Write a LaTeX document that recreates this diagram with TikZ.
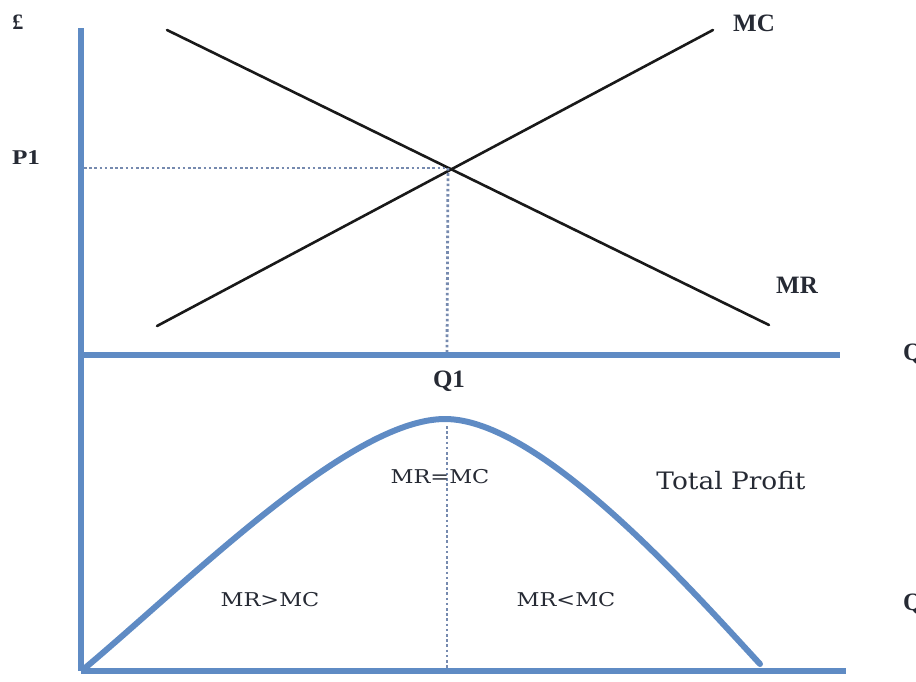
\documentclass[tikz,border=0pt]{standalone}
\usepackage{fontspec}
\usepackage{graphicx}
\setmainfont{Liberation Serif}
\newfontfamily\labelfont{DejaVu Serif}
\newcommand{\widetext}[2]{\scalebox{#1}[1]{#2}}
\begin{document}
\begin{tikzpicture}[x=1pt,y=-1pt,
  axis/.style={draw=axisblue,line width=6pt},
  curveline/.style={draw=black!90,line width=2.6pt,line cap=round},
  guide/.style={draw=guideblue,line width=2.8pt,dash pattern=on 2.6pt off 2.6pt},
  axlabel/.style={font=\bfseries\fontsize{25}{25}\selectfont,text=labelgray,inner sep=0pt},
  arealabel/.style={font=\labelfont\fontsize{19}{19}\selectfont,text=labelgray,inner sep=0pt},
  profitline/.style={draw=axisblue,line width=6pt,line cap=round}]
\definecolor{axisblue}{RGB}{95,139,196}
\definecolor{guideblue}{RGB}{118,138,175}
\definecolor{labelgray}{RGB}{38,42,52}
\useasboundingbox (0,0) rectangle (916,681);

% axes
\coordinate (top) at (81,28);
\coordinate (o1) at (81,355);
\coordinate (x1) at (840,355);
\coordinate (o2) at (81,671);
\coordinate (x2) at (846,671);
\draw[axis] (top) -- (o2);
\draw[axis] (o1) -- (x1);
\draw[axis] (o2) -- (x2);

% marginal revenue and marginal cost
\coordinate (mcA) at (157,326);
\coordinate (mcB) at (713,30);
\coordinate (mrA) at (167,30);
\coordinate (mrB) at (769,325);
\coordinate (eq) at (448,168);
\draw[curveline] (mcA) -- (mcB);
\draw[curveline] (mrA) -- (mrB);

% guides at the equilibrium
\coordinate (p1axis) at (84,168);
\coordinate (q1axis) at (447,352);
\coordinate (peak) at (445,419);
\coordinate (q2top) at (447,426);
\coordinate (q2axis) at (447,668);
\draw[guide] (p1axis) -- (eq);
\draw[guide] (eq) -- (q1axis);
\draw[guide] (q2top) -- (q2axis);

% total profit
\coordinate (start) at (85,668);
\coordinate (finish) at (760,664);
\draw[profitline] (start) .. controls (190,580) and (350,419) .. (peak)
  .. controls (540,419) and (690,588) .. (finish);

% labels
\node[axlabel,font=\bfseries\fontsize{22}{22}\selectfont] (pound) at (18,22) {£};
\node[axlabel,font=\bfseries\fontsize{21}{21}\selectfont] (p1) at (26,158) {\widetext{1.2}{P1}};
\node[axlabel] (mc) at (754,23) {MC};
\node[axlabel] (mr) at (797,285) {MR};
\node[axlabel,anchor=west] (q) at (903,354) {Q};
\node[axlabel] (q1) at (449,381) {Q1};
\node[axlabel,anchor=west] (qq) at (903,604) {Q};
\node[font=\labelfont\fontsize{24}{24}\selectfont,text=labelgray,inner sep=0pt] (tp) at (731,481) {\widetext{1.1}{Total Profit}};
\node[arealabel] (eqlab) at (440,477) {\widetext{1.18}{MR=MC}};
\node[arealabel] (gt) at (270,600) {\widetext{1.18}{MR>MC}};
\node[arealabel] (lt) at (566,600) {\widetext{1.18}{MR<MC}};
\end{tikzpicture}
\end{document}
